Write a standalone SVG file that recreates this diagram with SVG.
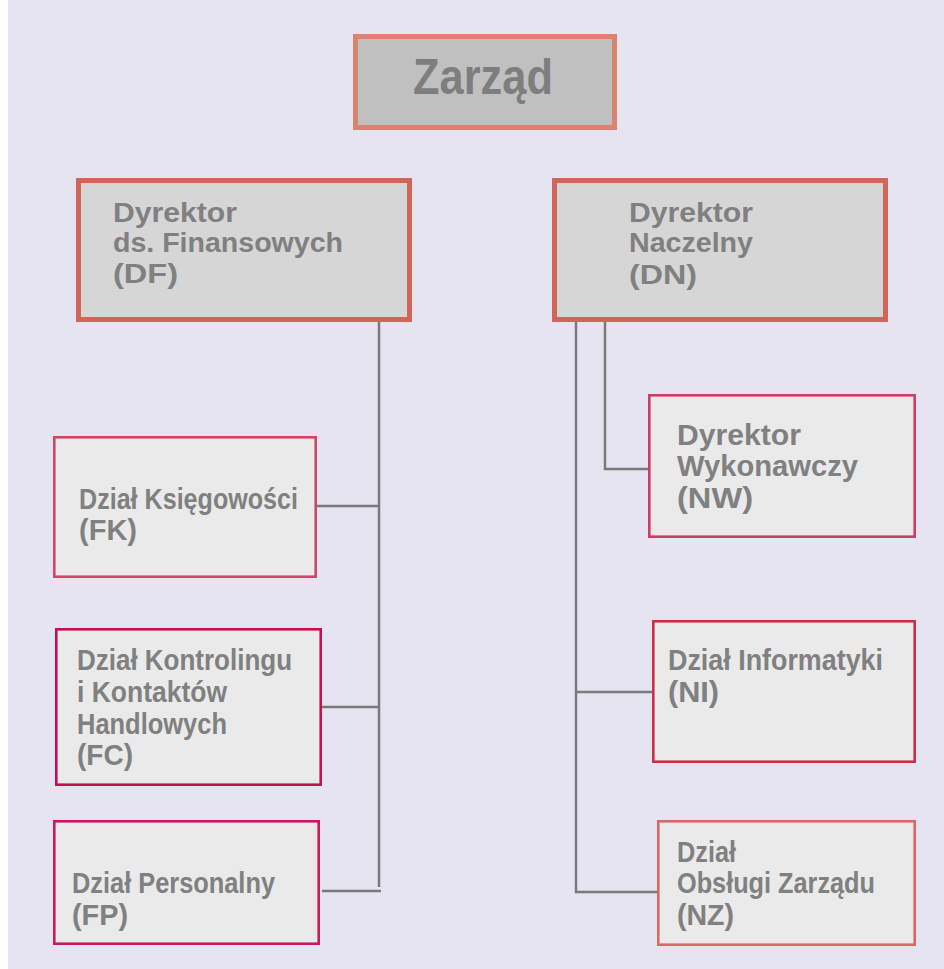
<svg xmlns="http://www.w3.org/2000/svg" width="944" height="969" viewBox="0 0 944 969">
<style>
.bg{fill:#E6E4F0}
.t{font-family:"Liberation Sans","DejaVu Sans",Arial,sans-serif;font-weight:bold;fill:#808080}
.dept{font-size:29px}
.dir{font-size:28px}
.top{font-size:50px;fill:#7E7E7E}
.deptbox{fill:#EAEAEA;stroke-width:2.6}
.dirbox{fill:#D6D6D6;stroke:#D0665A;stroke-width:5}
.conn{fill:none;stroke:#7A7A7A;stroke-width:2.5}
</style>
<rect x="0" y="0" width="944" height="969" fill="#FFFFFF"/>
<rect class="bg" x="8" y="0" width="936" height="969"/>
<g id="connectors">
<path class="conn" d="M379 322 V887"/>
<path class="conn" d="M317 506 H380"/>
<path class="conn" d="M322 707 H380"/>
<path class="conn" d="M322 891 H381"/>
<path class="conn" d="M576 322 V892 H657"/>
<path class="conn" d="M576 692 H653"/>
<path class="conn" d="M605 322 V469 H648"/>
</g>
<g id="zarzad">
<rect x="355.5" y="36.5" width="259" height="91" fill="#C0C0C0" stroke="#DA8470" stroke-width="5"/>
<text class="t top" x="413" y="94" textLength="140" lengthAdjust="spacingAndGlyphs">Zarząd</text>
</g>
<g id="df">
<rect class="dirbox" x="78.5" y="180.5" width="331" height="139"/>
<text class="t dir" x="113" y="222" textLength="124" lengthAdjust="spacingAndGlyphs">Dyrektor</text>
<text class="t dir" x="113" y="252" textLength="230" lengthAdjust="spacingAndGlyphs">ds. Finansowych</text>
<text class="t dir" x="113" y="283" textLength="65" lengthAdjust="spacingAndGlyphs">(DF)</text>
</g>
<g id="dn">
<rect class="dirbox" x="554.5" y="180.5" width="331" height="139"/>
<text class="t dir" x="629" y="222" textLength="124" lengthAdjust="spacingAndGlyphs">Dyrektor</text>
<text class="t dir" x="629" y="252" textLength="124" lengthAdjust="spacingAndGlyphs">Naczelny</text>
<text class="t dir" x="629" y="284" textLength="68" lengthAdjust="spacingAndGlyphs">(DN)</text>
</g>
<g id="fk">
<rect class="deptbox" x="54.3" y="437.3" width="261.4" height="139.4" stroke="#D04466"/>
<text class="t dept" x="79" y="509" textLength="219" lengthAdjust="spacingAndGlyphs">Dział Księgowości</text>
<text class="t dept" x="79" y="540" textLength="58" lengthAdjust="spacingAndGlyphs">(FK)</text>
</g>
<g id="fc">
<rect class="deptbox" x="56.3" y="629.3" width="264.4" height="155.4" stroke="#C4104C"/>
<text class="t dept" x="77" y="670" textLength="215" lengthAdjust="spacingAndGlyphs">Dział Kontrolingu</text>
<text class="t dept" x="77" y="702" textLength="150" lengthAdjust="spacingAndGlyphs">i Kontaktów</text>
<text class="t dept" x="77" y="734" textLength="150" lengthAdjust="spacingAndGlyphs">Handlowych</text>
<text class="t dept" x="77" y="765" textLength="56" lengthAdjust="spacingAndGlyphs">(FC)</text>
</g>
<g id="fp">
<rect class="deptbox" x="54.3" y="821.3" width="264.4" height="122.4" stroke="#C81A5A"/>
<text class="t dept" x="72" y="893" textLength="203" lengthAdjust="spacingAndGlyphs">Dział Personalny</text>
<text class="t dept" x="72" y="925" textLength="56" lengthAdjust="spacingAndGlyphs">(FP)</text>
</g>
<g id="nw">
<rect class="deptbox" x="649.3" y="395.3" width="265.4" height="141.4" stroke="#CC3C64"/>
<text class="t dept" x="677" y="445" textLength="124" lengthAdjust="spacingAndGlyphs">Dyrektor</text>
<text class="t dept" x="677" y="476" textLength="181" lengthAdjust="spacingAndGlyphs">Wykonawczy</text>
<text class="t dept" x="677" y="508" textLength="76" lengthAdjust="spacingAndGlyphs">(NW)</text>
</g>
<g id="ni">
<rect class="deptbox" x="653.3" y="621.3" width="261.4" height="140.4" stroke="#C83048"/>
<text class="t dept" x="668" y="670" textLength="215" lengthAdjust="spacingAndGlyphs">Dział Informatyki</text>
<text class="t dept" x="668" y="702" textLength="51" lengthAdjust="spacingAndGlyphs">(NI)</text>
</g>
<g id="nz">
<rect class="deptbox" x="658.3" y="821.3" width="256.4" height="123.4" stroke="#D86868"/>
<text class="t dept" x="677" y="862" textLength="59" lengthAdjust="spacingAndGlyphs">Dział</text>
<text class="t dept" x="677" y="893" textLength="198" lengthAdjust="spacingAndGlyphs">Obsługi Zarządu</text>
<text class="t dept" x="677" y="925" textLength="57" lengthAdjust="spacingAndGlyphs">(NZ)</text>
</g>
</svg>
